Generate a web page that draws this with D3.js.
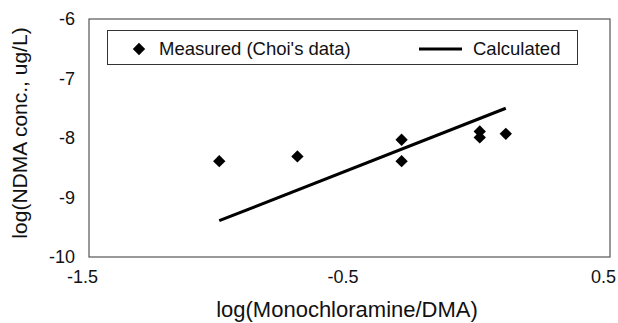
<!DOCTYPE html>
<html>
  <head>
    <style>
      body {
        margin: 0;
        background: #fff;
      }
      svg text {
        font-family: Arial, "Liberation Sans", sans-serif;
        fill: #111;
      }
      .tick-label {
        font-size: 18px;
      }
      .axis-title {
        font-size: 21px;
      }
      .legend-text {
        font-size: 18.5px;
      }
    </style>
  </head>
  <body>
    <script src="https://d3js.org/d3.v7.min.js"></script>
    <svg></svg>
    <script>
      // Measured points (Choi's data)
      const measuredX = [-1.0, -0.7, -0.3, -0.3, 0.0, 0.0, 0.1];
      const measuredY = [-8.39, -8.31, -8.03, -8.39, -7.89, -7.99, -7.93];

      // Calculated line (end points)
      const calcX = [-1.0, 0.1];
      const calcY = [-9.39, -7.5];

      const xTicks = [-1.5, -0.5, 0.5];
      const yTicks = [-6, -7, -8, -9, -10];

      const width = 618;
      const height = 323;
      const margin = { top: 19, right: 8, bottom: 66, left: 89 };
      const plotW = width - margin.left - margin.right;
      const plotH = height - margin.top - margin.bottom;

      const svg = d3
        .select("svg")
        .attr("width", width)
        .attr("height", height);

      const g = svg
        .append("g")
        .attr("transform", `translate(${margin.left},${margin.top})`);

      const x = d3.scaleLinear().domain([-1.5, 0.5]).range([0, plotW]);
      const y = d3.scaleLinear().domain([-10, -6]).range([plotH, 0]);

      // X axis labels
      const xAxis = g
        .append("g")
        .attr("transform", `translate(0,${plotH})`)
        .call(
          d3
            .axisBottom(x)
            .tickValues(xTicks)
            .tickSize(0)
            .tickPadding(13)
            .tickFormat((d) => String(d))
        );
      xAxis.select(".domain").remove();
      xAxis
        .selectAll("text")
        .attr("class", "tick-label")
        .attr("dx", -7)
        .attr("font-family", null)
        .attr("font-size", null);

      // Y axis labels
      const yAxis = g.append("g").call(
        d3
          .axisLeft(y)
          .tickValues(yTicks)
          .tickSize(0)
          .tickPadding(14)
          .tickFormat((d) => String(d))
      );
      yAxis.select(".domain").remove();
      yAxis
        .selectAll("text")
        .attr("class", "tick-label")
        .attr("font-family", null)
        .attr("font-size", null);

      // plot frame
      g.append("rect")
        .attr("x", 0)
        .attr("y", 0)
        .attr("width", plotW)
        .attr("height", plotH)
        .attr("fill", "none")
        .attr("stroke", "#555")
        .attr("stroke-width", 1.2);

      // calculated line
      const line = d3
        .line()
        .x((d) => x(d[0]))
        .y((d) => y(d[1]));
      g.append("path")
        .datum(calcX.map((v, i) => [v, calcY[i]]))
        .attr("d", line)
        .attr("fill", "none")
        .attr("stroke", "#000")
        .attr("stroke-width", 3);

      // measured diamonds
      const diamond = d3.symbol().type(d3.symbolSquare).size(76);
      g.selectAll(".pt")
        .data(measuredX.map((v, i) => [v, measuredY[i]]))
        .enter()
        .append("path")
        .attr("class", "pt")
        .attr("d", diamond)
        .attr("fill", "#000")
        .attr("transform", (d) => `translate(${x(d[0])},${y(d[1])}) rotate(45)`);

      // legend
      const legend = svg.append("g");
      legend
        .append("rect")
        .attr("x", 107.5)
        .attr("y", 30.5)
        .attr("width", 470)
        .attr("height", 34)
        .attr("fill", "#fff")
        .attr("stroke", "#333")
        .attr("stroke-width", 1);
      legend
        .append("path")
        .attr("d", diamond)
        .attr("fill", "#000")
        .attr("transform", "translate(139,49) rotate(45)");
      legend
        .append("text")
        .attr("class", "legend-text")
        .attr("x", 159)
        .attr("y", 55)
        .text("Measured (Choi's data)");
      legend
        .append("line")
        .attr("x1", 419)
        .attr("x2", 462)
        .attr("y1", 49)
        .attr("y2", 49)
        .attr("stroke", "#000")
        .attr("stroke-width", 3);
      legend
        .append("text")
        .attr("class", "legend-text")
        .attr("x", 473)
        .attr("y", 55)
        .text("Calculated");

      // axis titles
      svg
        .append("text")
        .attr("class", "axis-title")
        .attr("text-anchor", "middle")
        .attr("font-size", "22px")
        .style("font-size", "22px")
        .attr("x", 347)
        .attr("y", 317)
        .text("log(Monochloramine/DMA)");

      svg
        .append("text")
        .attr("class", "axis-title")
        .attr("text-anchor", "middle")
        .attr("transform", "translate(27,133) rotate(-90)")
        .text("log(NDMA conc., ug/L)");
    </script>
  </body>
</html>
